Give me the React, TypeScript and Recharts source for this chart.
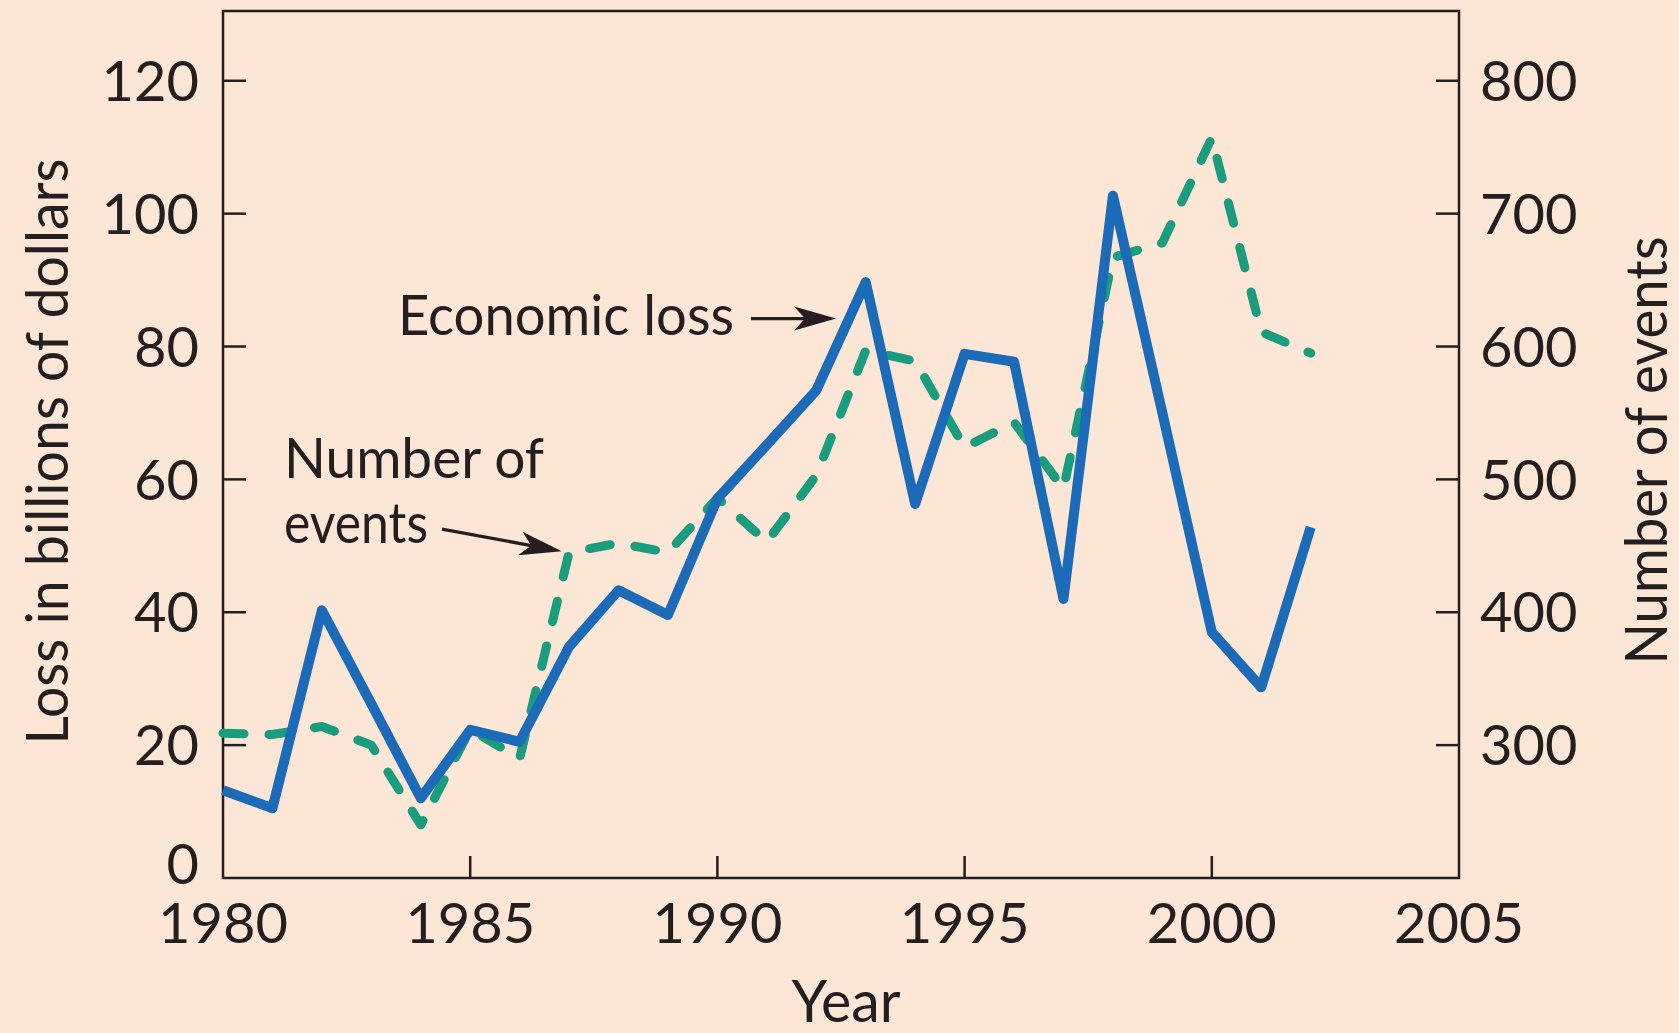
import { Label, Line, LineChart, ReferenceArea, ReferenceLine, XAxis, YAxis } from "recharts";

const YEARS = [
  1980, 1981, 1982, 1983, 1984, 1985, 1986, 1987, 1988, 1989, 1990, 1991,
  1992, 1993, 1994, 1995, 1996, 1997, 1998, 1999, 2000, 2001, 2002,
];
// billions of dollars
const ECONOMIC_LOSS = [
  13.2, 10.5, 40.3, 26.2, 12.0, 22.3, 20.5, 34.8, 43.3, 39.6, 57.1, 65.2,
  73.4, 89.7, 56.3, 78.9, 77.7, 42.0, 102.7, 70.0, 37.0, 28.7, 52.8,
];
const NUMBER_OF_EVENTS = [
  309, 308, 314, 300, 240, 312, 290, 445, 452, 445, 486, 453,
  503, 597, 589, 524, 543, 493, 667, 678, 757, 611, 595,
];
const YEAR_TICKS = [1980, 1985, 1990, 1995, 2000, 2005];
const LOSS_TICKS = [0, 20, 40, 60, 80, 100, 120];
const EVENT_TICKS = [300, 400, 500, 600, 700, 800];

const INK = "#231f20";
const BLUE = "#1b6bb8";
const GREEN = "#1a9d7f";
const BG = "#fce6d5";
const FONT = "Lato, 'Noto Sans', sans-serif";
const FS = 58;
const TICK_FS = 56;

const data = YEARS.map((year, i) => ({
  year,
  loss: ECONOMIC_LOSS[i],
  events: NUMBER_OF_EVENTS[i],
}));

function BottomTick({ x, y, payload }: any) {
  const v = payload.value;
  const edge = v === 1980 || v === 2005;
  return (
    <g>
      {!edge && <line x1={x} x2={x} y1={y} y2={y - 22} stroke={INK} strokeWidth={2.5} />}
      <text x={x} y={y + 65} textAnchor="middle" fill={INK} fontSize={TICK_FS} fontFamily={FONT}>
        {v}
      </text>
    </g>
  );
}

function LeftTick({ x, y, payload }: any) {
  const v = payload.value;
  // the zero label sits a little above the x axis so it clears "1980"
  const lift = v === 0 ? -14 : 0;
  return (
    <g>
      {v !== 0 && <line x1={x} x2={x + 23} y1={y} y2={y} stroke={INK} strokeWidth={2.5} />}
      <text x={x - 24} y={y + lift} dy="0.36em" textAnchor="end" fill={INK} fontSize={TICK_FS} fontFamily={FONT}>
        {v}
      </text>
    </g>
  );
}

function RightTick({ x, y, payload }: any) {
  return (
    <g>
      <line x1={x} x2={x - 23} y1={y} y2={y} stroke={INK} strokeWidth={2.5} />
      <text x={x + 21} y={y} dy="0.36em" textAnchor="start" fill={INK} fontSize={TICK_FS} fontFamily={FONT}>
        {payload.value}
      </text>
    </g>
  );
}

function Arrow({ x1, y1, x2, y2 }: any) {
  const ang = Math.atan2(y2 - y1, x2 - x1);
  const ux = Math.cos(ang);
  const uy = Math.sin(ang);
  const head = 42;
  const half = 12;
  const notch = 31;
  const bx = x2 - ux * head;
  const by = y2 - uy * head;
  const nx = x2 - ux * notch;
  const ny = y2 - uy * notch;
  const d = `M${x2},${y2} L${bx - uy * half},${by + ux * half} L${nx},${ny} L${bx + uy * half},${by - ux * half} Z`;
  return (
    <g>
      <line x1={x1} y1={y1} x2={nx} y2={ny} stroke={INK} strokeWidth={3.3} />
      <path d={d} fill={INK} />
    </g>
  );
}

const leftTitle = ({ viewBox }: any) => (
  <text
    transform={`translate(${viewBox.x + 68}, ${viewBox.y + viewBox.height / 2 + 7}) rotate(-90)`}
    textAnchor="middle"
    fontSize={FS}
    fontFamily={FONT}
    fill={INK}
    textLength={586}
    lengthAdjust="spacingAndGlyphs"
  >
    Loss in billions of dollars
  </text>
);

const rightTitle = ({ viewBox }: any) => (
  <text
    transform={`translate(${viewBox.x + 208}, ${viewBox.y + viewBox.height / 2 + 6}) rotate(-90)`}
    textAnchor="middle"
    fontSize={FS}
    fontFamily={FONT}
    fill={INK}
    textLength={428}
    lengthAdjust="spacingAndGlyphs"
  >
    Number of events
  </text>
);

const bottomTitle = ({ viewBox }: any) => (
  <text
    x={viewBox.x + viewBox.width / 2 + 5}
    y={viewBox.y + 144}
    textAnchor="middle"
    fontSize={FS}
    fontFamily={FONT}
    fill={INK}
    textLength={109}
    lengthAdjust="spacingAndGlyphs"
  >
    Year
  </text>
);

const noteStyle = { fontSize: 56, fontFamily: FONT, fill: INK } as const;

export default function App() {
  return (
    <div style={{ position: "relative", width: 1679, height: 1033, background: BG }}>
      <style>{"body{margin:0}"}</style>
      <LineChart width={1679} height={1033} data={data} margin={{ top: 11, right: 0, bottom: 0, left: 0 }}>
        <XAxis
          dataKey="year"
          type="number"
          domain={[1980, 2005]}
          ticks={YEAR_TICKS}
          interval={0}
          height={155}
          axisLine={false}
          tickLine={false}
          tickSize={0}
          tickMargin={0}
          tick={BottomTick}
        >
          <Label content={bottomTitle} />
        </XAxis>
        <YAxis
          yAxisId="left"
          domain={[0, 130.5]}
          ticks={LOSS_TICKS}
          interval={0}
          width={223}
          axisLine={false}
          tickLine={false}
          tickSize={0}
          tickMargin={0}
          tick={LeftTick}
        >
          <Label content={leftTitle} />
        </YAxis>
        <YAxis
          yAxisId="right"
          orientation="right"
          domain={[200, 852.5]}
          ticks={EVENT_TICKS}
          interval={0}
          width={220}
          axisLine={false}
          tickLine={false}
          tickSize={0}
          tickMargin={0}
          tick={RightTick}
        >
          <Label content={rightTitle} />
        </YAxis>
        <ReferenceArea
          yAxisId="left"
          x1={1980}
          x2={2005}
          y1={0}
          y2={130.5}
          fill="none"
          stroke={INK}
          strokeWidth={2.5}
          fillOpacity={0}
        />
        <Line
          yAxisId="right"
          dataKey="events"
          type="linear"
          stroke={GREEN}
          strokeWidth={9}
          strokeDasharray="21 25"
          strokeLinecap="round"
          strokeLinejoin="round"
          dot={false}
          activeDot={false}
          isAnimationActive={false}
        />
        <Line
          yAxisId="left"
          dataKey="loss"
          type="linear"
          stroke={BLUE}
          strokeWidth={10}
          strokeLinejoin="round"
          dot={false}
          activeDot={false}
          isAnimationActive={false}
        />
        <ReferenceLine
          yAxisId="left"
          segment={[
            { x: 1990.68, y: 84.2 },
            { x: 1992.4, y: 84.2 },
          ]}
          shape={Arrow}
        />
        <ReferenceLine
          yAxisId="left"
          segment={[
            { x: 1984.43, y: 52.5 },
            { x: 1986.85, y: 49.2 },
          ]}
          shape={Arrow}
        />
      </LineChart>
      <svg
        width={1679}
        height={1033}
        style={{ position: "absolute", left: 0, top: 0, pointerEvents: "none" }}
      >
        <text x={398} y={335} {...noteStyle} textLength={336} lengthAdjust="spacingAndGlyphs">
          Economic loss
        </text>
        <text x={284} y={478} {...noteStyle} textLength={260} lengthAdjust="spacingAndGlyphs">
          Number of
        </text>
        <text x={284} y={543} {...noteStyle} textLength={144} lengthAdjust="spacingAndGlyphs">
          events
        </text>
      </svg>
    </div>
  );
}
